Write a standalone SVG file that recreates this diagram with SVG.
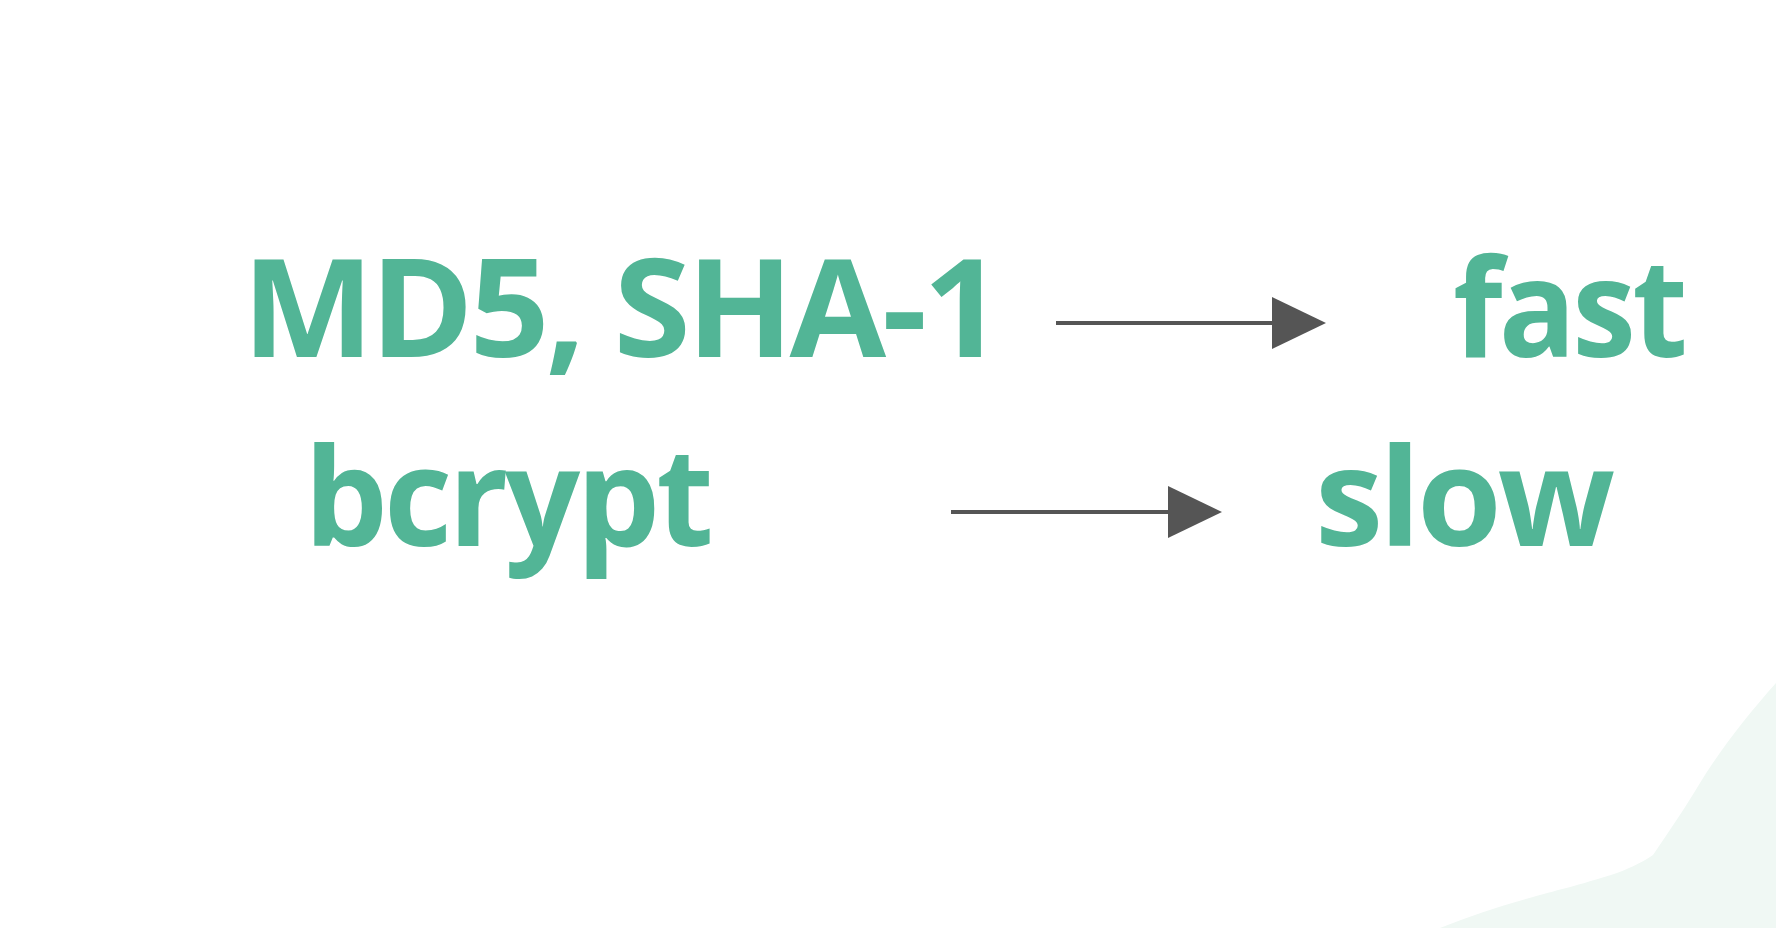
<svg xmlns="http://www.w3.org/2000/svg" width="1776" height="928" viewBox="0 0 1776 928">
  <style>
    .lbl { font-family: "Open Sans", "Noto Sans", "Liberation Sans", sans-serif; font-weight: bold; font-size: 136px; letter-spacing: -4px; fill: #52b596; }
    .conn { stroke: #555555; stroke-width: 4; fill: none; }
  </style>
  <defs>
    <marker id="arrow" markerUnits="userSpaceOnUse" markerWidth="54" markerHeight="52" refX="0" refY="26" orient="auto">
      <path d="M0,0 L54,26 L0,52 Z" fill="#555555"/>
    </marker>
  </defs>
  <rect x="0" y="0" width="1776" height="928" fill="#ffffff"/>
  <path d="M1776,683 C1750,712 1720,750 1700,783 C1685,808 1670,830 1653,855 C1640,864 1625,870 1617,873 C1580,885 1550,892 1533,897 C1500,906 1470,916 1440,928 L1776,928 Z" fill="#f0f8f4"/>
  <g id="connectors">
    <line class="conn" x1="1056" y1="323" x2="1272" y2="323" marker-end="url(#arrow)"/>
    <line class="conn" x1="951" y1="512" x2="1168" y2="512" marker-end="url(#arrow)"/>
  </g>
  <g id="node-md5">
    <text class="lbl" x="242" y="357" textLength="757" lengthAdjust="spacingAndGlyphs">MD5, SHA-1</text>
  </g>
  <g id="node-bcrypt">
    <text class="lbl" x="304" y="546" textLength="406" lengthAdjust="spacingAndGlyphs">bcrypt</text>
  </g>
  <g id="node-fast">
    <text class="lbl" x="1453" y="357" textLength="231" lengthAdjust="spacingAndGlyphs">fast</text>
  </g>
  <g id="node-slow">
    <text class="lbl" x="1315" y="546" textLength="296" lengthAdjust="spacingAndGlyphs">slow</text>
  </g>
</svg>
